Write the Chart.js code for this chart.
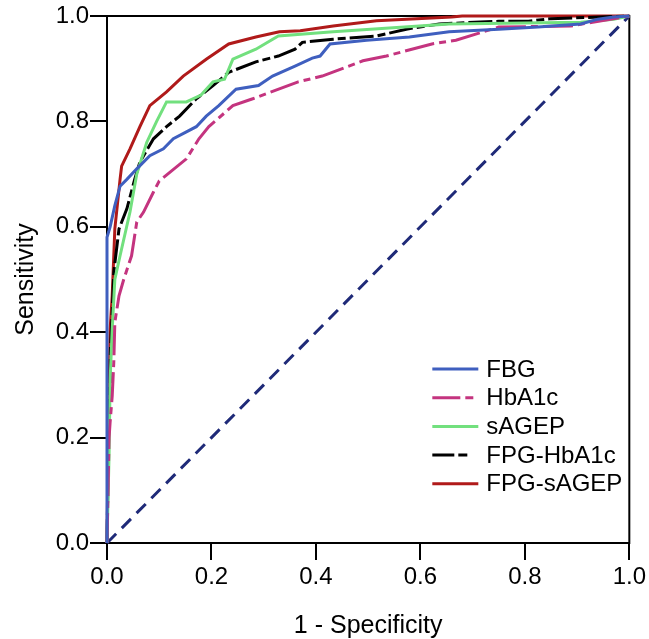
<!DOCTYPE html>
<html lang="en">
<head>
    <meta charset="UTF-8">
    <title>ROC curves</title>
    <script src="https://cdn.jsdelivr.net/npm/chart.js@4/dist/chart.umd.min.js"></script>
    <style>
        body { margin: 0; background: #fff; }
    </style>
</head>
<body>
<canvas id="roc" width="649" height="639"></canvas>

<script>
    // ROC points (1 - specificity, sensitivity)
    const fbgFpr = [0, 0, 0.006, 0.015, 0.025, 0.038, 0.057, 0.082, 0.108, 0.127, 0.152, 0.171, 0.19, 0.214, 0.247, 0.29, 0.317, 0.36, 0.393, 0.408, 0.427, 0.497, 0.579, 0.655, 0.75, 0.825, 0.907, 0.94, 0.97, 1];
    const fbgTpr = [0, 0.58, 0.60, 0.64, 0.677, 0.69, 0.71, 0.735, 0.748, 0.767, 0.78, 0.79, 0.81, 0.83, 0.861, 0.868, 0.886, 0.905, 0.92, 0.924, 0.947, 0.954, 0.96, 0.97, 0.975, 0.979, 0.985, 0.994, 0.998, 1];

    const hbaFpr = [0, 0.004, 0.006, 0.01, 0.013, 0.015, 0.023, 0.032, 0.047, 0.057, 0.07, 0.089, 0.10, 0.152, 0.176, 0.195, 0.241, 0.279, 0.366, 0.412, 0.49, 0.535, 0.622, 0.668, 0.75, 0.888, 1];
    const hbaTpr = [0, 0.2, 0.23, 0.279, 0.343, 0.419, 0.469, 0.5, 0.545, 0.609, 0.628, 0.666, 0.687, 0.729, 0.767, 0.79, 0.83, 0.843, 0.875, 0.886, 0.915, 0.924, 0.947, 0.954, 0.979, 0.981, 1];

    const sagFpr = [0, 0.004, 0.006, 0.01, 0.015, 0.025, 0.044, 0.057, 0.076, 0.095, 0.114, 0.152, 0.18, 0.203, 0.225, 0.241, 0.285, 0.328, 0.433, 0.655, 0.907, 0.97, 1];
    const sagTpr = [0, 0.17, 0.31, 0.406, 0.5, 0.545, 0.628, 0.7, 0.76, 0.80, 0.837, 0.837, 0.85, 0.875, 0.88, 0.918, 0.937, 0.962, 0.97, 0.985, 0.988, 0.994, 1];

    const fhFpr = [0, 0.003, 0.006, 0.006, 0.01, 0.013, 0.023, 0.038, 0.053, 0.063, 0.089, 0.114, 0.139, 0.171, 0.203, 0.233, 0.285, 0.328, 0.36, 0.374, 0.433, 0.516, 0.573, 0.636, 0.75, 0.807, 0.85, 1];
    const fhTpr = [0, 0.2, 0.31, 0.355, 0.438, 0.514, 0.596, 0.634, 0.69, 0.723, 0.767, 0.79, 0.81, 0.843, 0.868, 0.893, 0.913, 0.924, 0.937, 0.95, 0.956, 0.962, 0.975, 0.985, 0.99, 0.99, 0.995, 1];

    const fsFpr = [0, 0.003, 0.006, 0.01, 0.015, 0.025, 0.028, 0.044, 0.063, 0.082, 0.114, 0.146, 0.19, 0.233, 0.285, 0.33, 0.37, 0.433, 0.516, 0.66, 0.68, 1];
    const fsTpr = [0, 0.25, 0.406, 0.47, 0.596, 0.69, 0.715, 0.748, 0.79, 0.83, 0.856, 0.886, 0.918, 0.947, 0.96, 0.97, 0.972, 0.981, 0.991, 0.998, 1, 1];

    const refFpr = [0, 1];
    const refTpr = [0, 1];

    const seriesNames = ['FBG', 'HbA1c', 'sAGEP', 'FPG-HbA1c', 'FPG-sAGEP'];
    const axisTicks = [0, 0.2, 0.4, 0.6, 0.8, 1.0];

    function pts(xs, ys) {
        return xs.map((x, i) => ({ x: x, y: ys[i] }));
    }

    function curve(label, xs, ys, color, dash) {
        return {
            label: label,
            data: pts(xs, ys),
            borderColor: color,
            borderWidth: 3,
            borderDash: dash,
            pointRadius: 0,
            tension: 0,
            fill: false,
            clip: 5
        };
    }

    const datasets = [
        curve(seriesNames[0], fbgFpr, fbgTpr, '#3f5fbf', []),
        curve(seriesNames[1], hbaFpr, hbaTpr, '#c4347f', [30, 5, 7, 5]),
        curve(seriesNames[2], sagFpr, sagTpr, '#72e07e', []),
        curve(seriesNames[3], fhFpr, fhTpr, '#000000', [24, 4, 8, 4]),
        curve(seriesNames[4], fsFpr, fsTpr, '#b01a1a', []),
        curve('', refFpr, refTpr, '#1f2a78', [13, 8])
    ];

    const font = 'Liberation Sans, Arial, sans-serif';

    // box round the plot and the legend inside it
    const boxLegend = {
        id: 'boxLegend',
        beforeDatasetsDraw(chart) {
            const { ctx, chartArea: a } = chart;
            ctx.save();
            ctx.strokeStyle = '#000';
            ctx.lineWidth = 2;
            ctx.strokeRect(a.left, a.top, a.right - a.left, a.bottom - a.top);
            ctx.restore();
        },
        afterDraw(chart) {
            const { ctx, chartArea: a } = chart;
            const x0 = a.right - 197;
            const y0 = a.bottom - 174;
            ctx.save();
            ctx.font = '24px ' + font;
            ctx.textBaseline = 'middle';
            chart.data.datasets.forEach((ds, i) => {
                if (!ds.label) return;
                const y = y0 + i * 28.7;
                ctx.strokeStyle = ds.borderColor;
                ctx.lineWidth = 3;
                ctx.setLineDash(ds.borderDash.length ? [ds.borderDash[0] - 2, ds.borderDash[1], ds.borderDash[2] + 1, 20] : []);
                ctx.beginPath();
                ctx.moveTo(x0, y);
                ctx.lineTo(x0 + 46, y);
                ctx.stroke();
                ctx.setLineDash([]);
                ctx.fillStyle = '#000';
                ctx.fillText(ds.label, x0 + 54, y + 1);
            });
            ctx.restore();
        }
    };

    const tickCb = v => axisTicks.some(t => Math.abs(t - v) < 1e-9) ? v.toFixed(1) : '';

    new Chart(document.getElementById('roc'), {
        type: 'line',
        data: { datasets: datasets },
        plugins: [boxLegend],
        options: {
            responsive: false,
            animation: false,
            devicePixelRatio: 1,
            layout: { padding: { top: 16, right: 17, left: 0, bottom: 0 } },
            plugins: { legend: { display: false }, tooltip: { enabled: false } },
            scales: {
                x: {
                    type: 'linear', min: 0, max: 1,
                    ticks: { stepSize: 0.2, callback: tickCb, color: '#000', font: { family: font, size: 24 }, padding: 3, maxRotation: 0 },
                    grid: { drawOnChartArea: false, tickLength: 17, color: '#000', lineWidth: 2 },
                    border: { color: '#000', width: 2 },
                    title: { display: true, text: '1 - Specificity', color: '#000', font: { family: font, size: 25, lineHeight: 1 }, padding: { top: 0, bottom: 0 } },
                    afterFit(s) { s.height = 96; }
                },
                y: {
                    type: 'linear', min: 0, max: 1,
                    ticks: { stepSize: 0.2, callback: tickCb, color: '#000', font: { family: font, size: 24 }, padding: 1 },
                    grid: { drawOnChartArea: false, tickLength: 17, color: '#000', lineWidth: 2 },
                    border: { color: '#000', width: 2 },
                    title: { display: true, text: 'Sensitivity', color: '#000', font: { family: font, size: 25, lineHeight: 1 }, padding: { top: 13.5, bottom: 0 } },
                    afterFit(s) { s.width = 107; }
                }
            }
        }
    });
</script>
</body>
</html>
